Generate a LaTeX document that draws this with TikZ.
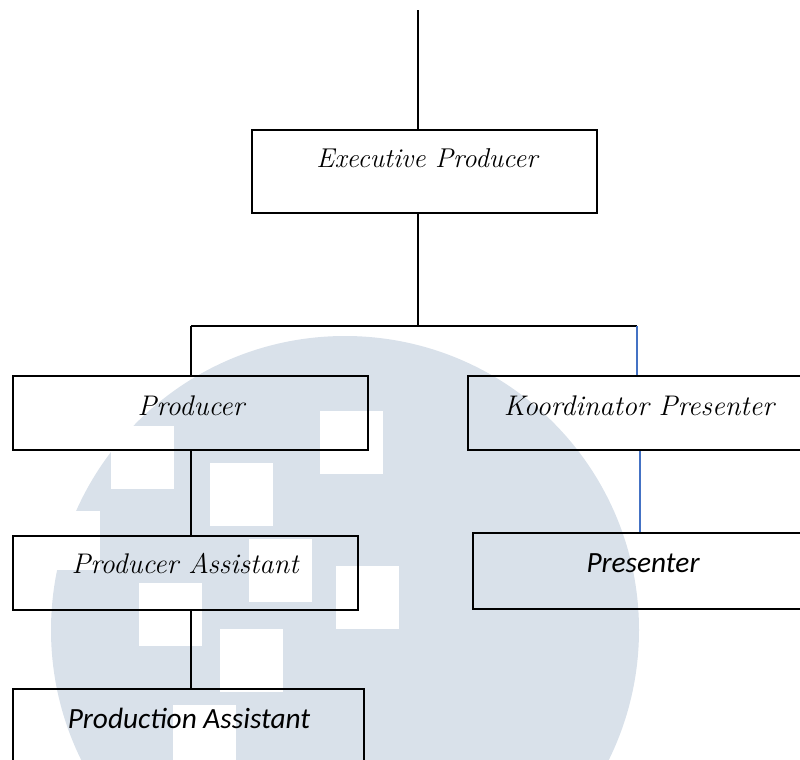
\documentclass[tikz,border=0pt]{standalone}
\usepackage{fontspec}
\newfontfamily\calib{Carlito}
\definecolor{wm}{RGB}{217,225,234}
\definecolor{blueline}{RGB}{68,114,196}
\begin{document}
\begin{tikzpicture}[x=0.75pt,y=-0.75pt,
  box/.style={draw=black,line width=1.6pt,rectangle,inner sep=0pt},
  conn/.style={draw=black,line width=0.8pt},
  bconn/.style={draw=blueline,line width=0.8pt},
  serlab/.style={font=\rmfamily\fontsize{21.3}{25}\selectfont\itshape,anchor=base,inner sep=0pt},
  callab/.style={font=\calib\fontsize{22}{26}\selectfont\itshape,anchor=base,inner sep=0pt}]
\useasboundingbox (0,0) rectangle (800,760);
\clip (0,0) rectangle (800,760);
% watermark
\fill[wm] (345,630) circle[radius=294];
\fill[white] (40,511) rectangle (100,570);
\foreach \x/\y in {111/426,210/463,320/411,249/539,139/583,336/566,220/629,173/705}
  \fill[white] (\x,\y) rectangle ++(63,63);
% boxes
\node[box,minimum width=258.75pt,minimum height=62.25pt] (exec) at (424.5,171.5) {};
\node[box,minimum width=266.25pt,minimum height=55.5pt] (prod) at (190.5,413) {};
\node[box,minimum width=271.5pt,minimum height=55.5pt] (kp) at (649,413) {};
\node[box,minimum width=267.75pt,minimum height=57pt] (pres) at (651.5,571) {};
\node[box,minimum width=258.75pt,minimum height=55.5pt] (passt) at (185.5,573) {};
\node[box,minimum width=263.25pt,minimum height=75.75pt] (prodasst) at (188.5,739.5) {};
% labels
\node[serlab,font=\rmfamily\fontsize{20.4}{25}\selectfont\itshape] (lexec) at (427,167) {Executive Producer};
\node[serlab] (lprod) at (191,415) {Producer};
\node[serlab] (lkp) at (639,415) {Koordinator Presenter};
\node[callab] (lpres) at (643,572) {Presenter};
\node[serlab] (lpasst) at (185,573) {Producer Assistant};
\node[callab] (lprodasst) at (189,728) {Production Assistant};
% connectors
\coordinate (top) at (418,10);
\coordinate (j) at (418,326);
\coordinate (jl) at (191,326);
\coordinate (jr) at (637,326);
\coordinate (bx) at (640,0);
\draw[conn] (top) -- (exec.north -| top);
\draw[conn] (exec.south -| j) -- (j);
\draw[conn] (jl) -- (jr);
\draw[conn] (jl) -- (prod.north -| jl);
\draw[bconn] (jr) -- (kp.north -| jr);
\draw[bconn] (kp.south -| bx) -- (pres.north -| bx);
\draw[conn] (prod.south -| jl) -- (passt.north -| jl);
\draw[conn] (passt.south -| jl) -- (prodasst.north -| jl);
\end{tikzpicture}
\end{document}
